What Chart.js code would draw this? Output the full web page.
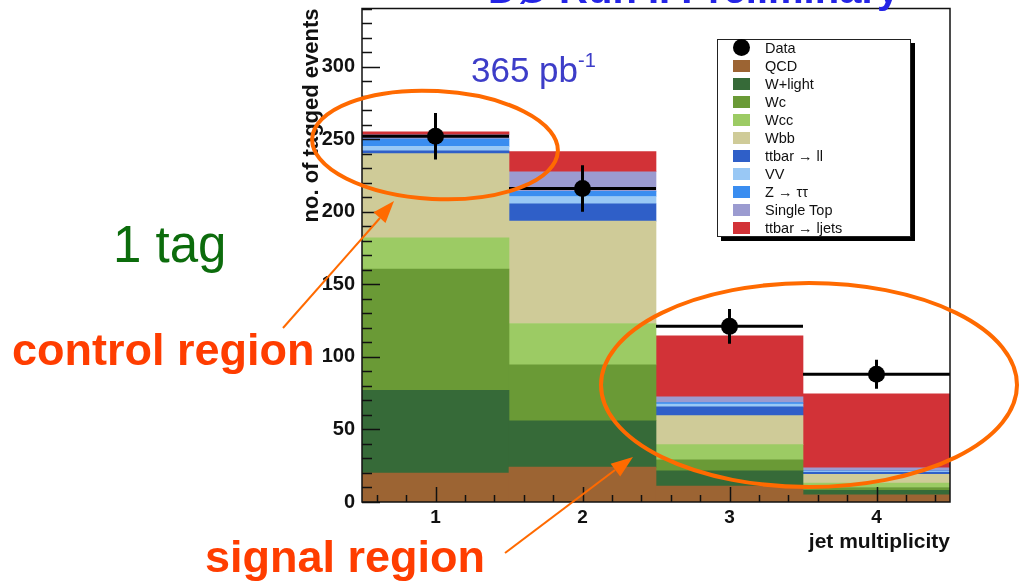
<!DOCTYPE html>
<html>
<head>
<meta charset="utf-8">
<script src="https://cdn.jsdelivr.net/npm/chart.js@4.4.1/dist/chart.umd.min.js"></script>
<style>
  body { margin: 0; background: #fff; }
  #wrap { position: relative; width: 1021px; height: 583px; overflow: hidden; font-family: "Liberation Sans", Arial, Helvetica, sans-serif; }
  #chart { position: absolute; left: 0; top: 0; }
  #legend { position: absolute; left: 717px; top: 39px; width: 192px; height: 196px; border: 1px solid #222; box-shadow: 4px 4px 0 #000; background: #fff; }
  .row { position: absolute; left: 0; width: 190px; height: 18px; font-size: 14.5px; line-height: 18px; color: #111; }
  .sw { position: absolute; left: 15px; top: 3px; width: 17px; height: 12px; }
  .dot { position: absolute; left: 15px; top: 0; width: 17px; height: 17px; border-radius: 50%; background: #000; }
  .lab { position: absolute; left: 47px; top: 0; white-space: nowrap; }
  #notes { position: absolute; left: 0; top: 0; pointer-events: none; font-family: "Liberation Sans", Arial, Helvetica, sans-serif; }
</style>
</head>
<body>
<div id="wrap">
  <canvas id="chart" width="1021" height="583"></canvas>
  <div id="legend"></div>
  <svg id="notes" width="1021" height="583">
    <text x="488" y="3" font-size="40" font-weight="bold" fill="#2424e6">DØ Run II Preliminary</text>
    <text x="471" y="82" font-size="35" fill="#3d3dc8">365 pb<tspan dy="-15" font-size="20">-1</tspan></text>
    <text x="113" y="262" font-size="51" fill="#0c6c0c">1 tag</text>
    <text x="12" y="365" font-size="45" font-weight="bold" fill="#ff3d00">control region</text>
    <text x="205" y="572" font-size="45" font-weight="bold" fill="#ff3d00">signal region</text>
    <ellipse cx="435" cy="145" rx="123" ry="54" transform="rotate(3 435 145)" fill="none" stroke="#ff6a00" stroke-width="4"/>
    <ellipse cx="809" cy="385" rx="208" ry="102" fill="none" stroke="#ff6a00" stroke-width="4"/>
    <line x1="283" y1="328" x2="380" y2="218" stroke="#ff6a00" stroke-width="2"/>
    <polygon points="394,201 385.5,222.9 373.5,212.3" fill="#ff6a00"/>
    <line x1="505" y1="553" x2="615" y2="470" stroke="#ff6a00" stroke-width="2"/>
    <polygon points="633,457 620.2,476.6 610.6,463.8" fill="#ff6a00"/>
  </svg>
</div>
<script>
// jet multiplicity bins
const categories = ['1', '2', '3', '4'];

// stacked backgrounds, bottom to top
const seriesNames = ['QCD', 'W+light', 'Wc', 'Wcc', 'Wbb', 'ttbar \u2192 ll', 'VV', 'Z \u2192 \u03c4\u03c4', 'Single Top', 'ttbar \u2192 ljets'];
const seriesColors = ['#9c6433', '#366a38', '#6a9a36', '#9ccb64', '#cfcb98', '#2f5fc8', '#99c8f5', '#3a8df0', '#9b9bd0', '#d23237'];

const qcd        = [20, 24, 11, 5];
const wLight     = [57, 32, 10.5, 3];
const wc         = [83.5, 38.5, 7.5, 2];
const wcc        = [21.5, 28.5, 10.5, 3];
const wbb        = [58, 70.5, 20, 6];
const ttbarLL    = [2, 12, 6, 1.5];
const vv         = [3, 5, 2, 0.5];
const zTauTau    = [5, 3.5, 1, 0.5];
const singleTop  = [3, 13.5, 4, 2];
const ttbarLjets = [2, 14, 42, 51];

// observed data
const dataValues = [252, 216, 121, 88];
const dataErrors = [16, 16, 12, 10];

const yTicks = [0, 50, 100, 150, 200, 250, 300];

const stackValues = [qcd, wLight, wc, wcc, wbb, ttbarLL, vv, zTauTau, singleTop, ttbarLjets];
const FONT = '"Liberation Sans", Arial, Helvetica, sans-serif';

// legend
const legend = document.getElementById('legend');
let html = '<div class="row" style="top:-1px"><div class="dot"></div><div class="lab">Data</div></div>';
seriesNames.forEach((name, i) => {
    html += `<div class="row" style="top:${(i + 1) * 18 - 1}px"><div class="sw" style="background:${seriesColors[i]}"></div><div class="lab">${name}</div></div>`;
});
legend.innerHTML = html;

// frame, inward ticks and error bars
const frameTicks = {
    id: 'frameTicks',
    afterDatasetsDraw(chart) {
        const { ctx, chartArea: a, scales: { x, y } } = chart;
        ctx.save();

        // error bars
        const bw = x.getPixelForValue(1) - x.getPixelForValue(0);
        ctx.strokeStyle = '#000';
        ctx.lineWidth = 3;
        dataValues.forEach((v, i) => {
            const px = x.getPixelForValue(i);
            const py = y.getPixelForValue(v);
            ctx.beginPath();
            ctx.moveTo(px - bw / 2, py);
            ctx.lineTo(px + bw / 2, py);
            ctx.moveTo(px, y.getPixelForValue(v + dataErrors[i]));
            ctx.lineTo(px, y.getPixelForValue(v - dataErrors[i]));
            ctx.stroke();
        });

        ctx.strokeStyle = '#111';
        ctx.lineWidth = 1.5;
        ctx.beginPath();
        for (let v = 0; v <= y.max; v += 10) {
            const py = Math.round(y.getPixelForValue(v)) + 0.5;
            const len = v % 50 === 0 ? 18 : 10;
            ctx.moveTo(a.left, py);
            ctx.lineTo(a.left + len, py);
        }
        const c0 = x.getPixelForValue(0);
        for (let k = 3; k <= 22; k++) {
            const v = k * 0.2;
            const px = Math.round(c0 + (v - 1) * bw) + 0.5;
            const len = k % 5 === 0 ? 15 : 7;
            ctx.moveTo(px, a.bottom);
            ctx.lineTo(px, a.bottom - len);
        }
        ctx.stroke();

        ctx.strokeRect(a.left, a.top, a.right - a.left, a.bottom - a.top);
        ctx.restore();
    }
};

const datasets = stackValues.map((vals, i) => ({
    type: 'bar',
    label: seriesNames[i],
    data: vals,
    backgroundColor: seriesColors[i],
    borderWidth: 0,
    barPercentage: 1,
    categoryPercentage: 1,
    stack: 'mc',
    order: 1
}));
datasets.push({
    type: 'line',
    label: 'Data',
    data: dataValues,
    showLine: false,
    pointRadius: 8.5,
    pointBackgroundColor: '#000',
    pointBorderWidth: 0,
    stack: 'data',
    order: 0
});

new Chart(document.getElementById('chart').getContext('2d'), {
    type: 'bar',
    data: { labels: categories, datasets: datasets },
    options: {
        responsive: false,
        animation: false,
        devicePixelRatio: 1,
        plugins: { legend: { display: false }, tooltip: { enabled: false } },
        layout: { padding: { left: 0, right: 71, top: 5, bottom: 0 } },
        scales: {
            x: {
                stacked: true,
                grid: { display: false, drawTicks: false },
                border: { display: false },
                ticks: { color: '#111', font: { family: FONT, size: 19, weight: 'bold' }, padding: 4 },
                title: { display: true, text: 'jet multiplicity', align: 'end', color: '#111', font: { family: FONT, size: 21, weight: 'bold' }, padding: { top: 0, bottom: 28 } },
                afterFit(s) { s.height = 81; s.paddingLeft = 0; s.paddingRight = 0; }
            },
            y: {
                stacked: true,
                min: 0, max: 340,
                grid: { display: false, drawTicks: false },
                border: { display: false },
                ticks: { stepSize: 50, color: '#111', font: { family: FONT, size: 20, weight: 'bold' }, padding: 7 },
                afterBuildTicks(s) { s.ticks = yTicks.map(v => ({ value: v })); },
                title: { display: true, text: 'no. of tagged events', align: 'end', color: '#111', font: { family: FONT, size: 22, weight: 'bold' }, padding: { top: 299, bottom: 0 } },
                afterFit(s) { s.width = 362; s.paddingTop = 0; s.paddingBottom = 0; }
            }
        }
    },
    plugins: [frameTicks]
});
</script>
</body>
</html>
